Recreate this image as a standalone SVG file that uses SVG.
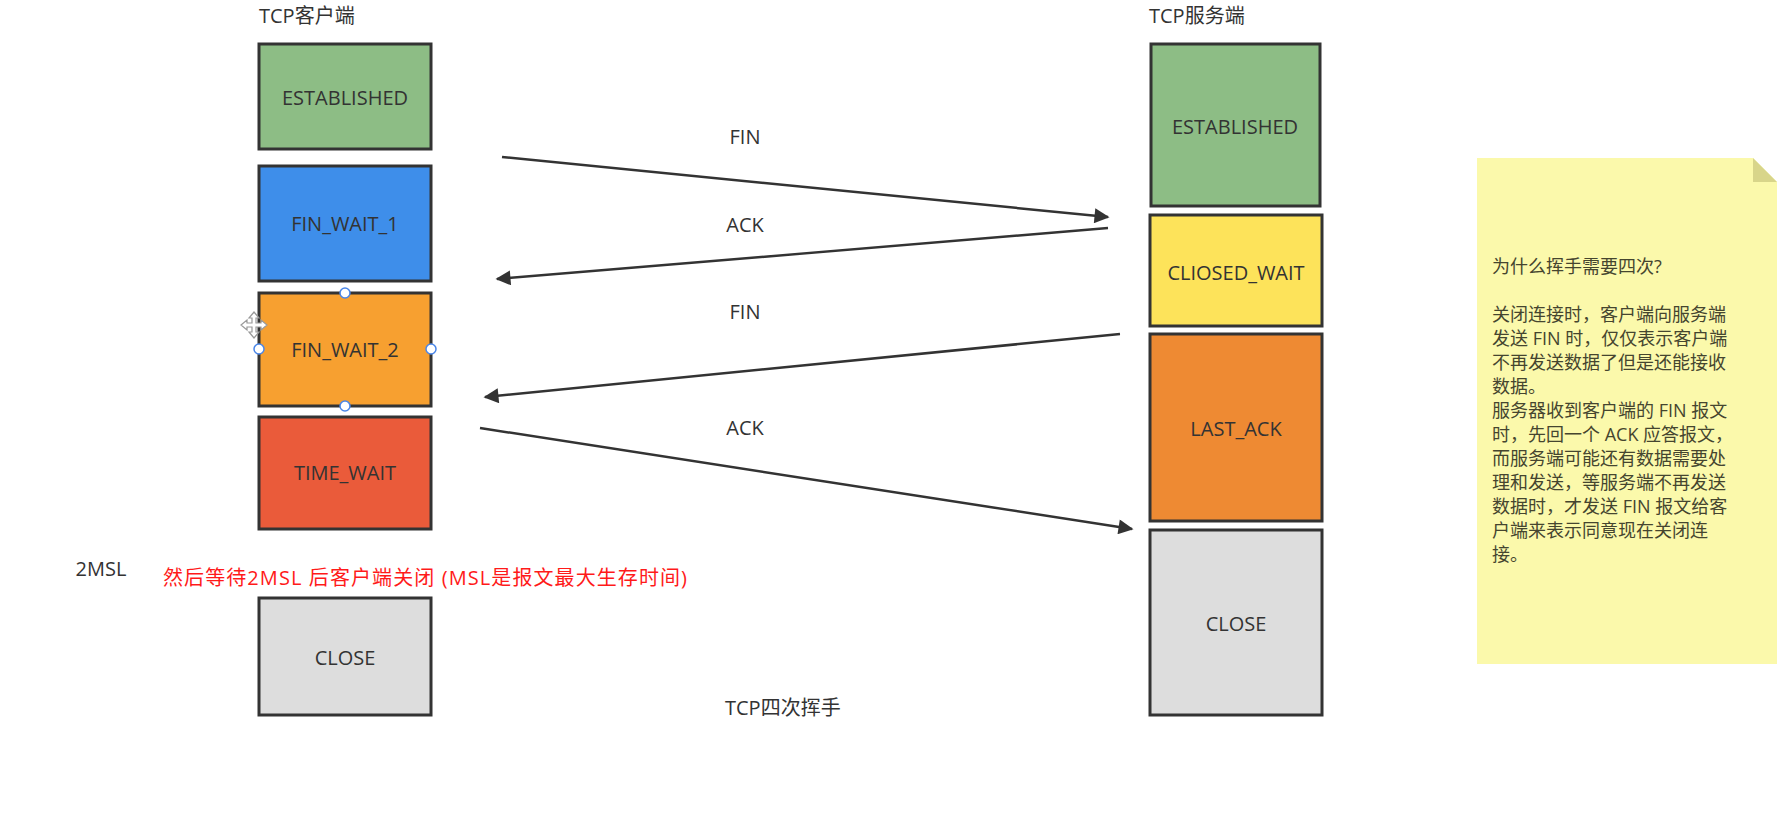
<svg xmlns="http://www.w3.org/2000/svg" width="1791" height="832" viewBox="0 0 1791 832">
<style>
.box{stroke:#333;stroke-width:3}
.lbl{font-family:"Open Sans","Noto Sans CJK SC",sans-serif;font-size:20px;fill:#333;text-anchor:middle;dominant-baseline:central}
.t{font-family:"Open Sans","Noto Sans CJK SC",sans-serif;font-size:20px;fill:#333}
.note{font-family:"Open Sans","Noto Sans CJK SC",sans-serif;font-size:18px;fill:#45452f}
.conn{stroke:#333;stroke-width:2.5;fill:none;marker-end:url(#ah)}
.h{fill:#fff;stroke:#4a86e8;stroke-width:1.5}
</style>
<defs>
<marker id="ah" viewBox="0 0 10 10" refX="9" refY="5" markerWidth="7" markerHeight="6" markerUnits="strokeWidth" orient="auto">
<path d="M0,0 L10,5 L0,10 z" fill="#333"/>
</marker>
</defs>
<rect width="1791" height="832" fill="#fff"/>

<text class="t" x="259" y="23">TCP客户端</text>
<text class="t" x="1149" y="23">TCP服务端</text>

<g id="c-established"><rect class="box" x="259" y="44" width="172" height="105" fill="#8dbd85"/><text class="lbl" x="345" y="97">ESTABLISHED</text></g>
<g id="c-fin-wait-1"><rect class="box" x="259" y="166" width="172" height="115" fill="#3e8eea"/><text class="lbl" x="345" y="223">FIN_WAIT_1</text></g>
<g id="c-fin-wait-2"><rect class="box" x="259" y="293" width="172" height="113" fill="#f7a030"/><text class="lbl" x="345" y="349">FIN_WAIT_2</text></g>
<g id="c-time-wait"><rect class="box" x="259" y="417" width="172" height="112" fill="#ea5b3a"/><text class="lbl" x="345" y="472">TIME_WAIT</text></g>
<g id="c-close"><rect class="box" x="259" y="598" width="172" height="117" fill="#dddddd"/><text class="lbl" x="345" y="657">CLOSE</text></g>

<g id="s-established"><rect class="box" x="1151" y="44" width="169" height="162" fill="#8dbd85"/><text class="lbl" x="1235" y="126">ESTABLISHED</text></g>
<g id="s-closed-wait"><rect class="box" x="1150" y="215" width="172" height="111" fill="#fde35a"/><text class="lbl" x="1236" y="272">CLIOSED_WAIT</text></g>
<g id="s-last-ack"><rect class="box" x="1150" y="334" width="172" height="187" fill="#ee8a33"/><text class="lbl" x="1236" y="428">LAST_ACK</text></g>
<g id="s-close"><rect class="box" x="1150" y="530" width="172" height="185" fill="#dddddd"/><text class="lbl" x="1236" y="623">CLOSE</text></g>

<g id="handles">
<circle class="h" cx="345" cy="293" r="5"/>
<circle class="h" cx="345" cy="406" r="5"/>
<circle class="h" cx="259" cy="349" r="5"/>
<circle class="h" cx="431" cy="349" r="5"/>
<g transform="translate(254,325)" fill="#fff" stroke="#999" stroke-width="1.2">
<path d="M0,-13 L5,-7 L2,-7 L2,-2 L7,-2 L7,-5 L13,0 L7,5 L7,2 L2,2 L2,7 L5,7 L0,13 L-5,7 L-2,7 L-2,2 L-7,2 L-7,5 L-13,0 L-7,-5 L-7,-2 L-2,-2 L-2,-7 L-5,-7 z"/>
</g>
</g>

<g id="connectors">
<line class="conn" x1="502" y1="157" x2="1108" y2="217"/>
<line class="conn" x1="1108" y1="228" x2="497" y2="279"/>
<line class="conn" x1="1120" y1="334" x2="485" y2="397"/>
<line class="conn" x1="480" y1="428" x2="1132" y2="529"/>
<text class="lbl" x="745" y="136">FIN</text>
<text class="lbl" x="745" y="224">ACK</text>
<text class="lbl" x="745" y="311">FIN</text>
<text class="lbl" x="745" y="427">ACK</text>
</g>

<text class="lbl" x="101" y="568">2MSL</text>
<text x="163" y="577" dominant-baseline="central" font-family="'Open Sans','Noto Sans CJK SC',sans-serif" font-size="20" fill="#ff1a1a" textLength="524">然后等待2MSL 后客户端关闭 (MSL是报文最大生存时间)</text>

<text class="t" x="725" y="715">TCP四次挥手</text>

<g id="note">
<path d="M1477,158 L1753,158 L1777,182 L1777,664 L1477,664 z" fill="#fbf9ab"/>
<path d="M1753,158 L1777,182 L1753,182 z" fill="#d8d58a"/>
<text class="note">
<tspan x="1492" y="273">为什么挥手需要四次?</tspan>
<tspan x="1492" y="321">关闭连接时，客户端向服务端</tspan>
<tspan x="1492" y="345">发送 FIN 时，仅仅表示客户端</tspan>
<tspan x="1492" y="369">不再发送数据了但是还能接收</tspan>
<tspan x="1492" y="393">数据。</tspan>
<tspan x="1492" y="417">服务器收到客户端的 FIN 报文</tspan>
<tspan x="1492" y="441">时，先回一个 ACK 应答报文，</tspan>
<tspan x="1492" y="465">而服务端可能还有数据需要处</tspan>
<tspan x="1492" y="489">理和发送，等服务端不再发送</tspan>
<tspan x="1492" y="513">数据时，才发送 FIN 报文给客</tspan>
<tspan x="1492" y="537">户端来表示同意现在关闭连</tspan>
<tspan x="1492" y="561">接。</tspan>
</text>
</g>
</svg>
